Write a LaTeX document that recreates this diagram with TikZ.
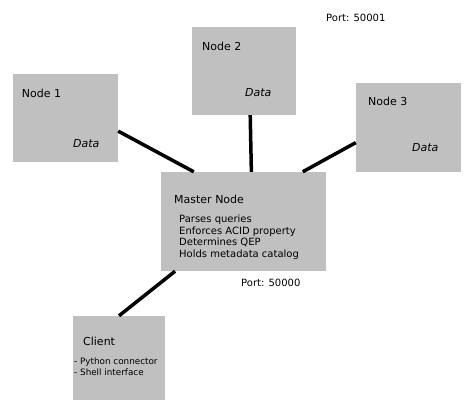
\documentclass[tikz,border=0pt]{standalone}
\usepackage{fontspec}
\setmainfont{DejaVu Sans}
\definecolor{boxgray}{RGB}{192,192,192}
\tikzset{
  box/.style={fill=boxgray, draw=none, rectangle, inner sep=0pt},
  link/.style={line width=3.5pt, black},
  title/.style={anchor=base west, inner sep=0pt, font=\fontsize{11}{13}\selectfont},
  info/.style={anchor=base west, inner sep=0pt, font=\fontsize{10}{12}\selectfont},
  data/.style={anchor=base west, inner sep=0pt, font=\fontsize{11}{13}\selectfont\itshape},
  small/.style={anchor=base west, inner sep=0pt, font=\fontsize{8.8}{10}\selectfont},
}
\begin{document}
\begin{tikzpicture}[x=1pt,y=-1pt]
        \useasboundingbox (0, 0) rectangle (467, 407);
        % boxes
        \node[box, minimum width=105pt, minimum height=88pt] (n1) at (65.5, 118) {};
        \node[box, minimum width=104pt, minimum height=88pt] (n2) at (244, 71) {};
        \node[box, minimum width=105pt, minimum height=89pt] (n3) at (408.5, 127.5) {};
        \node[box, minimum width=165pt, minimum height=99pt] (master) at (243.5, 221.5) {};
        \node[box, minimum width=92pt, minimum height=84pt] (client) at (119, 358) {};
        % links
        \draw[link] (n1.-14) -- (master.135.6);
        \draw[link] (n2.-82.2) -- (master.81.4);
        \draw[link] (n3.-164.6) -- (master.40.2);
        \draw[link] (master.-144.5) -- (client.north);
        % texts
        \node[title] at (21.7, 97) {Node 1};
        \node[data] at (73, 147) {Data};
        \node[title] at (202, 50) {Node 2};
        \node[data] at (245, 96) {Data};
        \node[title] at (368, 105) {Node 3};
        \node[data] at (412, 151) {Data};
        \node[info] at (326, 21) {Port: 50001};
        \node[title] at (174, 203) {Master Node};
        \foreach \txt [count=\i from 0] in {Parses queries, Enforces ACID property, Determines QEP, Holds metadata catalog}
            \node[info] at (179, 222.5 + 11.6*\i) {\txt};
        \node[info] at (241, 286) {Port: 50000};
        \node[title] at (83, 345) {Client};
        \node[small] at (74, 364) {- Python connector};
        \node[small] at (74, 375) {- Shell interface};
\end{tikzpicture}
\end{document}
